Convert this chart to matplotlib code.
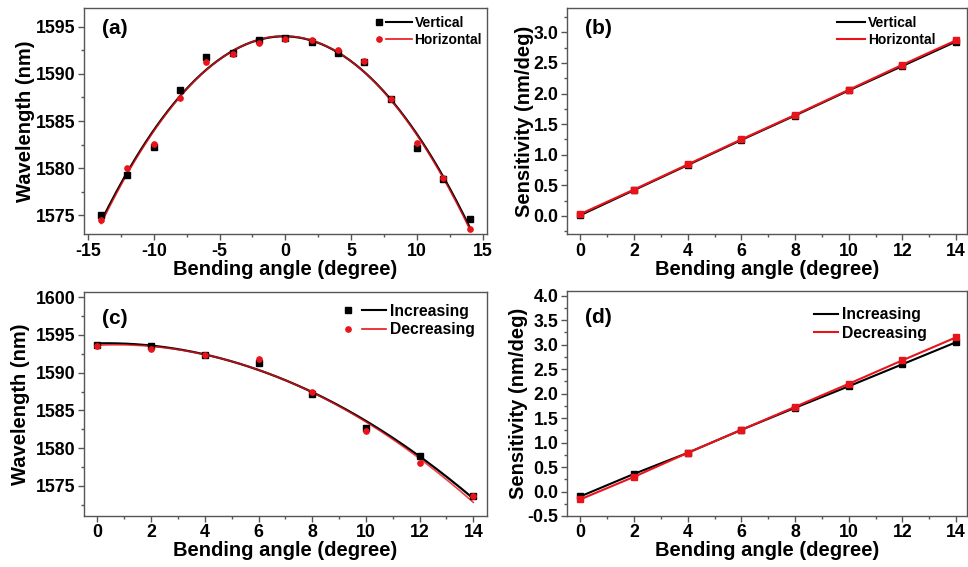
import numpy as np
import matplotlib
matplotlib.use('Agg')
import matplotlib.pyplot as plt
from matplotlib.lines import Line2D
from matplotlib.legend_handler import HandlerBase
from matplotlib.ticker import MultipleLocator

plt.rcParams['font.family'] = ['Liberation Sans', 'DejaVu Sans']
plt.rcParams['font.weight'] = 'bold'
plt.rcParams['axes.unicode_minus'] = False

# ---- data ----
angle_sym = [-14, -12, -10, -8, -6, -4, -2, 0, 2, 4, 6, 8, 10, 12, 14]
wl_vertical = [1575.0, 1579.3, 1582.2, 1588.3, 1591.8, 1592.2, 1593.6, 1593.8,
               1593.4, 1592.2, 1591.3, 1587.3, 1582.1, 1578.8, 1574.6]
wl_horizontal = [1574.5, 1580.0, 1582.6, 1587.4, 1591.3, 1592.1, 1593.3, 1593.7,
                 1593.6, 1592.5, 1591.4, 1587.3, 1582.7, 1579.0, 1573.5]

angle_pos = [0, 2, 4, 6, 8, 10, 12, 14]
sens_vertical = [0.01, 0.42, 0.83, 1.24, 1.64, 2.05, 2.45, 2.85]
sens_horizontal = [0.03, 0.43, 0.84, 1.25, 1.65, 2.06, 2.47, 2.87]

wl_increasing = [1593.7, 1593.6, 1592.4, 1591.3, 1587.2, 1582.7, 1579.0, 1573.6]
wl_decreasing = [1593.5, 1593.2, 1592.4, 1591.8, 1587.4, 1582.3, 1578.0, 1573.6]

sens_increasing = [-0.10, 0.36, 0.79, 1.26, 1.71, 2.15, 2.60, 3.05]
sens_decreasing = [-0.16, 0.30, 0.79, 1.26, 1.73, 2.20, 2.68, 3.15]

BLACK = '#000000'
RED = '#e8141b'
SPINE = '#555555'
MS = 3.8

fig = plt.figure(figsize=(9.68, 5.67), dpi=100)
ax_a = fig.add_axes([0.0868, 0.587, 0.416, 0.399])
ax_b = fig.add_axes([0.5857, 0.587, 0.413, 0.399])
ax_c = fig.add_axes([0.0868, 0.090, 0.416, 0.395])
ax_d = fig.add_axes([0.5857, 0.090, 0.413, 0.397])


class MarkerThenLine(HandlerBase):
    # Origin style legend entry: symbol on the left, then a short line
    def __init__(self, mark_x, line_x0):
        super().__init__()
        self.mark_x = mark_x
        self.line_x0 = line_x0

    def create_artists(self, legend, orig_handle, xdescent, ydescent,
                       width, height, fontsize, trans):
        marker, color, lw = orig_handle
        y = height / 2 - ydescent
        m = Line2D([-xdescent + self.mark_x], [y], ls='none', marker=marker,
                   ms=MS, color=color, transform=trans)
        ln = Line2D([-xdescent + self.line_x0, -xdescent + width], [y, y],
                    color=color, lw=lw, transform=trans)
        return [m, ln]


def style(ax, xmaj, ymaj, xmin, ymin):
    for s in ax.spines.values():
        s.set_color(SPINE)
        s.set_linewidth(1.0)
    ax.xaxis.set_major_locator(MultipleLocator(xmaj))
    ax.yaxis.set_major_locator(MultipleLocator(ymaj))
    ax.xaxis.set_minor_locator(MultipleLocator(xmin))
    ax.yaxis.set_minor_locator(MultipleLocator(ymin))
    ax.tick_params(which='both', direction='out', color=SPINE, width=1,
                   top=False, right=False)
    ax.tick_params(which='major', length=4, labelsize=12.8, pad=2)
    ax.tick_params(which='minor', length=2)
    ax.set_xlabel('Bending angle (degree)', fontsize=14.5, fontweight='bold', labelpad=0)


def fit_curve(x, y, lo, hi):
    p = np.polyfit(x, y, 2)
    xs = np.linspace(lo, hi, 200)
    return xs, np.polyval(p, xs)


def scatter_legend(ax, labels, loc_xy, fs, hl, mark_x, line_x0):
    h1 = ('s', BLACK, 1.5)
    h2 = ('o', RED, 1.2)
    handler = MarkerThenLine(mark_x, line_x0)
    ax.legend([h1, h2], labels, handler_map={tuple: handler},
              loc='upper right', bbox_to_anchor=loc_xy, frameon=False,
              fontsize=fs, handlelength=hl, handletextpad=0.2, labelspacing=0.22,
              borderaxespad=0)


def line_legend(ax, labels, loc_xy, fs, hl):
    h = [Line2D([], [], color=BLACK, lw=1.5), Line2D([], [], color=RED, lw=1.5)]
    ax.legend(h, labels, loc='upper right', bbox_to_anchor=loc_xy, frameon=False,
              fontsize=fs, handlelength=hl, handletextpad=0.2, labelspacing=0.22,
              borderaxespad=0)


# (a)
xs, ys = fit_curve(angle_sym, wl_vertical, -14, 14)
ax_a.plot(xs, ys, color=BLACK, lw=1.6)
xs, ys = fit_curve(angle_sym, wl_horizontal, -14, 14)
ax_a.plot(xs, ys, color=RED, lw=1.2, alpha=0.8)
ax_a.plot(angle_sym, wl_vertical, 's', color=BLACK, ms=MS)
ax_a.plot(angle_sym, wl_horizontal, 'o', color=RED, ms=MS)
ax_a.set_xlim(-15.3, 15.3)
ax_a.set_ylim(1573, 1597)
style(ax_a, 5, 5, 2.5, 2.5)
ax_a.set_ylabel('Wavelength (nm)', fontsize=14.5, fontweight='bold', labelpad=1)
ax_a.text(0.045, 0.91, '(a)', transform=ax_a.transAxes, fontsize=15,
          fontweight='bold', va='center')
scatter_legend(ax_a, ['Vertical', 'Horizontal'], (1.002, 0.99), 10, 2.6, 2.5, 7.5)

# (b)
ax_b.plot(angle_pos, sens_vertical, '-s', color=BLACK, lw=1.5, ms=MS)
ax_b.plot(angle_pos, sens_horizontal, '-s', color=RED, lw=1.5, ms=MS)
ax_b.set_xlim(-0.5, 14.4)
ax_b.set_ylim(-0.3, 3.4)
style(ax_b, 2, 0.5, 1, 0.25)
ax_b.set_ylabel('Sensitivity (nm/deg)', fontsize=14.5, fontweight='bold', labelpad=0)
ax_b.text(0.045, 0.91, '(b)', transform=ax_b.transAxes, fontsize=15,
          fontweight='bold', va='center')
line_legend(ax_b, ['Vertical', 'Horizontal'], (0.935, 0.99), 10, 2.0)

# (c)
xs, ys = fit_curve(angle_pos, wl_increasing, 0, 14)
ax_c.plot(xs, ys, color=BLACK, lw=1.6)
xs, ys = fit_curve(angle_pos, wl_decreasing, 0, 14)
ax_c.plot(xs, ys, color=RED, lw=1.2, alpha=0.8)
ax_c.plot(angle_pos, wl_increasing, 's', color=BLACK, ms=MS)
ax_c.plot(angle_pos, wl_decreasing, 'o', color=RED, ms=MS)
ax_c.set_xlim(-0.5, 14.5)
ax_c.set_ylim(1571, 1600.7)
style(ax_c, 2, 5, 1, 2.5)
ax_c.set_ylabel('Wavelength (nm)', fontsize=14.5, fontweight='bold', labelpad=4.5)
ax_c.text(0.045, 0.88, '(c)', transform=ax_c.transAxes, fontsize=15,
          fontweight='bold', va='center')
scatter_legend(ax_c, ['Increasing', 'Decreasing'], (0.985, 0.975), 11.3, 2.65, 2.5, 12.5)

# (d)
ax_d.plot(angle_pos, sens_increasing, '-s', color=BLACK, lw=1.5, ms=MS)
ax_d.plot(angle_pos, sens_decreasing, '-s', color=RED, lw=1.5, ms=MS)
ax_d.set_xlim(-0.5, 14.4)
ax_d.set_ylim(-0.5, 4.1)
style(ax_d, 2, 0.5, 1, 0.25)
ax_d.set_ylabel('Sensitivity (nm/deg)', fontsize=14.5, fontweight='bold', labelpad=-0.5)
ax_d.text(0.045, 0.88, '(d)', transform=ax_d.transAxes, fontsize=15,
          fontweight='bold', va='center')
line_legend(ax_d, ['Increasing', 'Decreasing'], (0.915, 0.955), 11.3, 1.55)

fig.savefig('out.png', dpi=100)
